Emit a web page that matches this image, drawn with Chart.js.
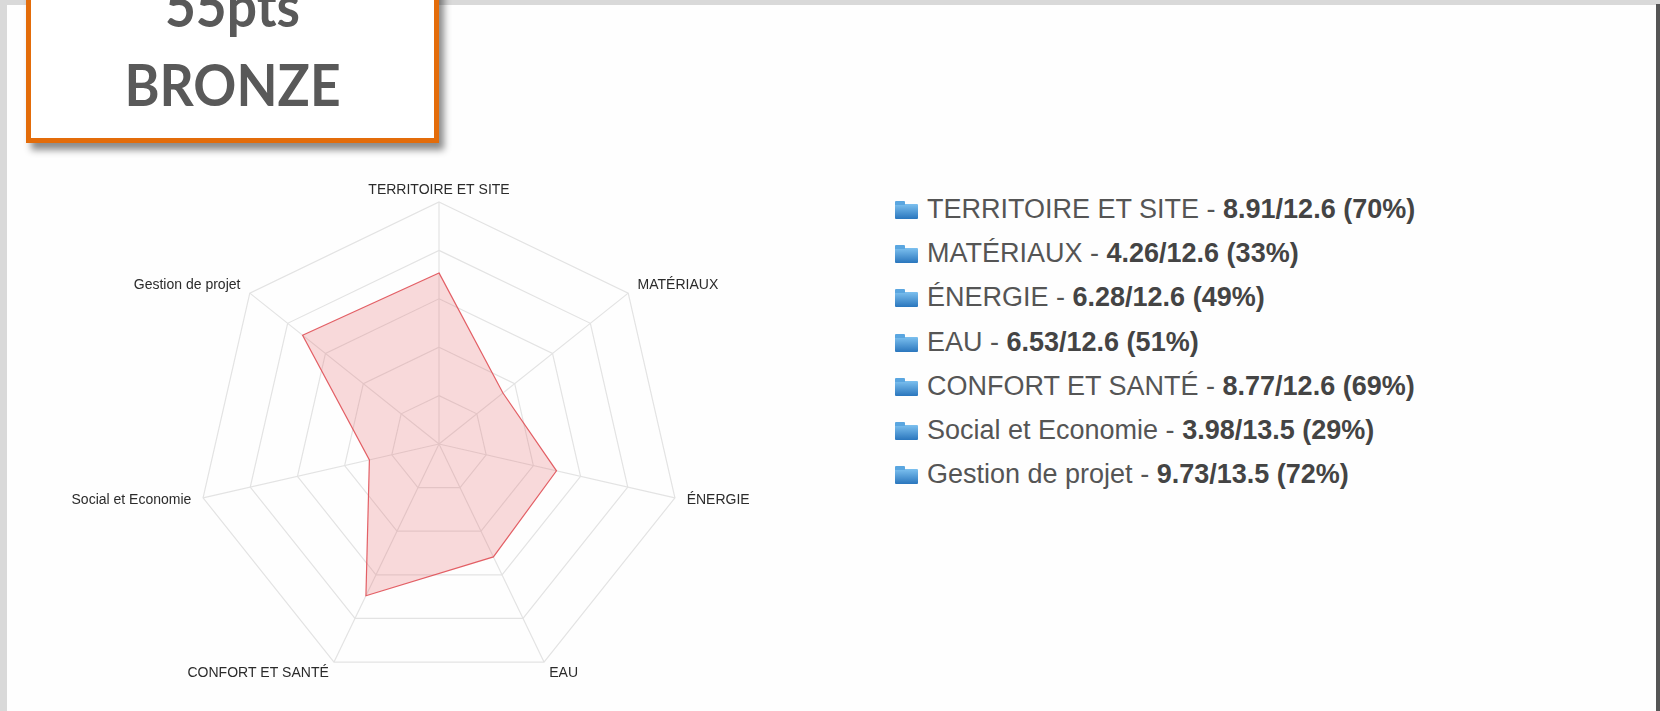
<!DOCTYPE html>
<html>
<head>
<meta charset="utf-8">
<script src="https://cdn.jsdelivr.net/npm/chart.js@4/dist/chart.umd.min.js"></script>
<style>
  html, body { margin: 0; padding: 0; }
  body { width: 1660px; height: 711px; background: #d9d9d9; position: relative; overflow: hidden; font-family: "Liberation Sans", Arial, sans-serif; }
  .page { position: absolute; left: 7px; top: 5px; width: 1649px; height: 720px; background: #fefefe; }
  .edge { position: absolute; left: 1656px; top: 4px; width: 4px; height: 720px; background: #555; }
  .badge { position: absolute; left: 26px; top: -70px; width: 403px; height: 203px; border: 5px solid #e36c0a; background: #fff; box-shadow: 5px 7px 7px rgba(0,0,0,0.45); color: #595959; font-family: Lato, "Open Sans", sans-serif; font-weight: 700; text-align: center; }
  .badge div { position: absolute; left: 0; right: 0; font-size: 58px; line-height: 58px; transform: scaleX(0.92); }
  .badge .pts { top: 41px; }
  .badge .lvl { top: 120px; }
  #radar { position: absolute; left: 0; top: 150px; }
  #legend { position: absolute; left: 895px; top: 187px; margin: 0; padding: 0; list-style: none; }
  #legend li { height: 44.2px; line-height: 44.2px; font-size: 27px; color: #555; white-space: nowrap; }
  #legend b { color: #444; }
  #legend .ico { display: inline-block; position: relative; width: 23px; height: 15px; margin-right: 9px; vertical-align: -1px; border-radius: 1px; background: linear-gradient(#7cc0ef, #2a76bd); }
  #legend .ico::before { content: ""; position: absolute; left: 0; top: -3px; width: 10px; height: 4px; background: #5aa6e0; border-radius: 1px 1px 0 0; }
</style>
</head>
<body>
<div class="page"></div>
<div class="edge"></div>
<div class="badge"><div class="pts">55pts</div><div class="lvl">BRONZE</div></div>
<canvas id="radar" width="860" height="560"></canvas>
<ul id="legend"></ul>
<script>
  const CATEGORIES = ["TERRITOIRE ET SITE", "MATÉRIAUX", "ÉNERGIE", "EAU", "CONFORT ET SANTÉ", "Social et Economie", "Gestion de projet"];
  const SCORES = ["8.91", "4.26", "6.28", "6.53", "8.77", "3.98", "9.73"];
  const MAXIMA = ["12.6", "12.6", "12.6", "12.6", "12.6", "13.5", "13.5"];
  const PERCENT_LABELS = ["70%", "33%", "49%", "51%", "69%", "29%", "72%"];
  const PERCENT_VALUES = [70.7, 33.8, 49.8, 51.8, 69.6, 29.5, 72.1];
  const SCALE_MAX = 100;
  const SCALE_STEP = 20;

  const legend = document.getElementById("legend");
  legend.innerHTML = CATEGORIES.map((name, i) =>
    `<li><span class="ico"></span>${name} - <b>${SCORES[i]}/${MAXIMA[i]} (${PERCENT_LABELS[i]})</b></li>`
  ).join("");

  // axis names drawn the old way: middle baseline beside each spoke, top one centred above
  const pointLabelText = {
    id: "pointLabelText",
    afterDraw(chart) {
      const r = chart.scales.r;
      const ctx = chart.ctx;
      ctx.save();
      ctx.font = '14px "Liberation Sans", Arial, sans-serif';
      ctx.fillStyle = "#2b2b2b";
      chart.data.labels.forEach((label, i) => {
        const top = i === 0;
        const p = r.getPointPosition(i, r.drawingArea + (top ? 5 : 12));
        ctx.textAlign = top ? "center" : (p.x > r.xCenter ? "left" : "right");
        ctx.textBaseline = top ? "bottom" : "middle";
        ctx.fillText(label, p.x, p.y);
      });
      ctx.restore();
    }
  };

  new Chart(document.getElementById("radar"), {
    type: "radar",
    data: {
      labels: CATEGORIES,
      datasets: [{
        data: PERCENT_VALUES,
        borderColor: "rgba(224, 80, 87, 0.9)",
        backgroundColor: "rgba(232, 99, 106, 0.24)",
        borderWidth: 1.2,
        pointRadius: 0,
        fill: true
      }]
    },
    options: {
      responsive: false,
      animation: false,
      layout: { padding: { left: 197, right: 179, top: 52, bottom: 24 } },
      plugins: { legend: { display: false }, tooltip: { enabled: false } },
      scales: {
        r: {
          min: 0,
          max: SCALE_MAX,
          ticks: { display: false, stepSize: SCALE_STEP },
          grid: { color: "#e3e3e3", lineWidth: 1.2 },
          angleLines: { color: "#e3e3e3", lineWidth: 1.2 },
          pointLabels: { display: false }
        }
      }
    },
    plugins: [pointLabelText]
  });
</script>
</body>
</html>
